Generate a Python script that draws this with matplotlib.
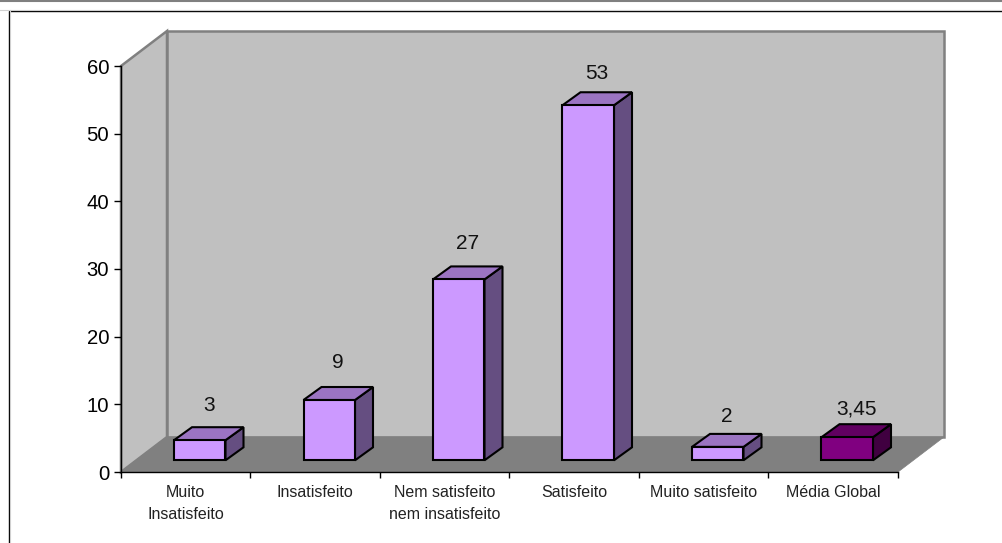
#!/usr/bin/env python3
import matplotlib
matplotlib.use("Agg")
import matplotlib.pyplot as plt
from matplotlib.patches import Polygon, Rectangle

categories = ["Muito\nInsatisfeito", "Insatisfeito", "Nem satisfeito\nnem insatisfeito",
              "Satisfeito", "Muito satisfeito", "Média Global"]
values = [3, 9, 27, 53, 2, 3.45]
value_labels = ["3", "9", "27", "53", "2", "3,45"]
yticks = [0, 10, 20, 30, 40, 50, 60]

W, H = 1002, 543
# front plane of the chart in pixels
LEFT, RIGHT, TOP, BOTTOM = 121, 898, 66, 472
# gap between bar top and its label, in pixels
label_gaps = [12.5, 15, 13, 9.5, 7.5, 5.5]

plt.rcParams['font.family'] = ['Liberation Sans', 'DejaVu Sans']
fig = plt.figure(figsize=(W / 100, H / 100), dpi=100)
ax = fig.add_axes([LEFT / W, 1 - BOTTOM / H, (RIGHT - LEFT) / W, (BOTTOM - TOP) / H])
ax.set_xlim(0, len(categories))
ax.set_ylim(0, 60)
ax.patch.set_visible(False)
for s in ax.spines.values():
    s.set_visible(False)

# depth of the 3d box and of the bars, in data units
dx = 46 / 129.5
dy = 35 / 6.767
bar_dx = 18 / 129.5
bar_dy = 13 / 6.767
bar_base = 11.7 / 6.767
bar_left = 53 / 129.5
bar_w = 51.5 / 129.5
bar_scale = 0.99  # bars come out a touch shorter than the axis scale


def poly(pts, fc, ec, lw, z):
    ax.add_patch(Polygon(pts, closed=True, facecolor=fc, edgecolor=ec, linewidth=lw,
                         zorder=z, clip_on=False, joinstyle='miter'))


n = len(categories)
wall = "#c0c0c0"
edge = "#808080"
# side wall, back wall, floor
poly([(0, 0), (dx, dy), (dx, 60 + dy), (0, 60)], wall, edge, 1.8, 1)
poly([(dx, dy), (n + dx, dy), (n + dx, 60 + dy), (dx, 60 + dy)], wall, edge, 1.8, 1)
poly([(0, 0), (n, 0), (n + dx, dy), (dx, dy)], edge, edge, 0.5, 2)

bar_colors = [("#cc99ff", "#9b74c2", "#654e81")] * 5 + [("#800080", "#610061", "#400040")]
for i, (v, lab) in enumerate(zip(values, value_labels)):
    front, top, side = bar_colors[i]
    x0 = i + bar_left
    x1 = x0 + bar_w
    y0 = bar_base
    h = v * bar_scale
    y1 = bar_base + h
    poly([(x1, y0), (x1 + bar_dx, y0 + bar_dy), (x1 + bar_dx, y1 + bar_dy), (x1, y1)], side, "black", 1.5, 3)
    poly([(x0, y1), (x1, y1), (x1 + bar_dx, y1 + bar_dy), (x0 + bar_dx, y1 + bar_dy)], top, "black", 1.5, 3)
    ax.add_patch(Rectangle((x0, y0), bar_w, h, facecolor=front, edgecolor="black", linewidth=1.5,
                           zorder=4, clip_on=False))
    ax.annotate(lab, (x0 + bar_w / 2 + bar_dx / 2, y1 + bar_dy), xytext=(0, label_gaps[i] * 0.72),
                textcoords='offset points', ha='center', va='bottom',
                fontsize=15, color="#111111", zorder=5, annotation_clip=False)

ax.plot([0, n], [0, 0], color="black", lw=1.0, zorder=5, clip_on=False)
ax.plot([0, 0], [0, 60], color="black", lw=1.0, zorder=5, clip_on=False)

ax.set_yticks(yticks)
ax.tick_params(axis='y', length=5, width=1, pad=3.5, labelsize=14.6)
ax.set_xticks(range(n + 1))
ax.tick_params(axis='x', length=4, width=1, labelbottom=False)
for i, c in enumerate(categories):
    ax.annotate(c, (i + 0.5, 0), xytext=(0, -9.5), textcoords='offset points', ha='center', va='top',
                fontsize=11.5, linespacing=1.55, color="#222222", annotation_clip=False)

# outer frame with its faint inner shadow, and the grey line along the top of the page
fig.add_artist(plt.Line2D([0, 1], [1 - 9.5 / H, 1 - 9.5 / H], color="#d0d0d0", linewidth=0.8))
fig.add_artist(plt.Line2D([9.7 / W, 9.7 / W], [0, 1 - 10 / H], color="#d0d0d0", linewidth=0.8))
fig.add_artist(Rectangle((8.5 / W, 1 - 560 / H), 1100 / W, 549.5 / H, transform=fig.transFigure,
                         fill=False, edgecolor="black", linewidth=1.0))
fig.add_artist(plt.Line2D([0, 1], [1 - 0.5 / H, 1 - 0.5 / H], color="#808080", linewidth=1.5))

fig.savefig("out.png", dpi=100)
